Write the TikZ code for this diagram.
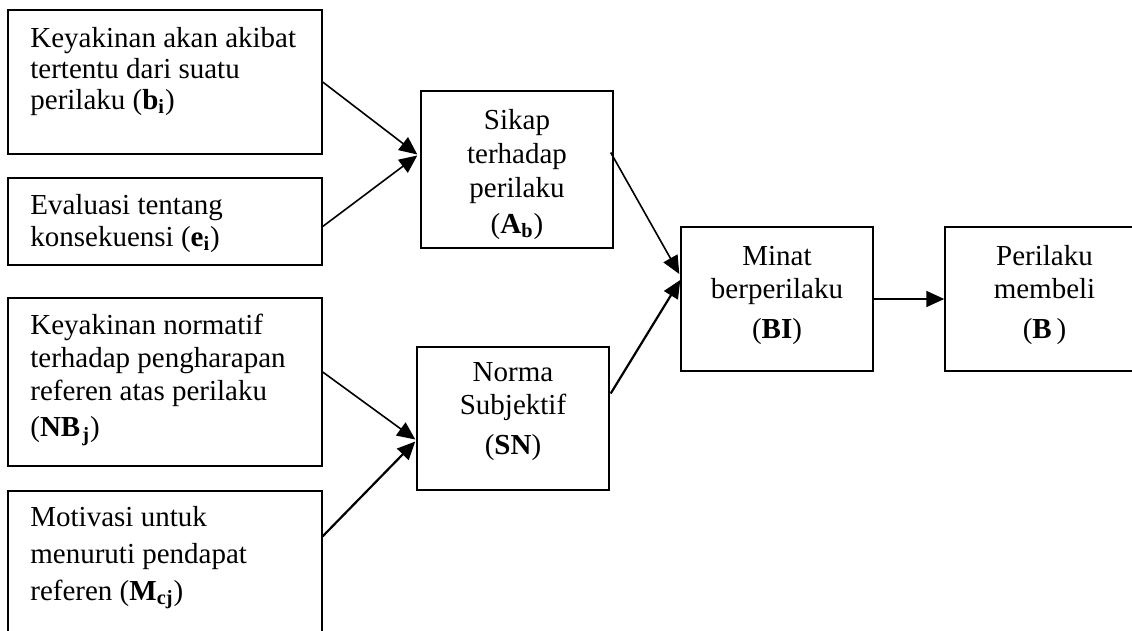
\documentclass[tikz,border=0pt]{standalone}
\usepackage{fontspec}
\setmainfont{Liberation Serif}
\usetikzlibrary{arrows.meta,fit,calc}
\begin{document}
\begin{tikzpicture}[x=0.5pt,y=-0.5pt,
  box/.style={draw,line width=0.7pt,inner sep=0pt},
  lefttxt/.style={anchor=north west,inner sep=0pt,align=left},
  midtxt/.style={anchor=north,inner sep=0pt,align=center},
  arr/.style={-{Triangle[length=9pt,width=8pt]},line width=0.8pt},
  arrb/.style={arr,line width=1.1pt}]
\path[use as bounding box] (0,0) rectangle (1132,631);
\clip (0,0) rectangle (1132,631);
% boxes
\node[box,fit={(8,10) (322,154)}] (b1) {};
\node[box,fit={(8,178) (322,265)}] (b2) {};
\node[box,fit={(8,298) (322,466)}] (b3) {};
\node[box,fit={(8,491) (322,660)}] (b4) {};
\node[box,fit={(421,91) (613,248)}] (sikap) {};
\node[box,fit={(417,347) (609,490)}] (norma) {};
\node[box,fit={(681,227) (873,371)}] (minat) {};
\node[box,fit={(945,227) (1140,371)}] (perilaku) {};
% texts
\node[lefttxt,font=\fontsize{14.5pt}{15.5pt}\selectfont] (t1) at (30,27)
  {Keyakinan akan akibat\\tertentu dari suatu\\perilaku (\textbf{b\textsubscript{i}})};
\node[lefttxt,font=\fontsize{14.5pt}{16pt}\selectfont] (t2) at (30,194)
  {Evaluasi tentang\\konsekuensi (\textbf{e\textsubscript{i}})};
\node[lefttxt,font=\fontsize{14.5pt}{16.5pt}\selectfont] (t3) at (30,314)
  {Keyakinan normatif\\terhadap pengharapan\\referen atas perilaku\\[1.5pt](\textbf{NB\kern1pt\textsubscript{j}})};
\node[lefttxt,font=\fontsize{14.5pt}{18.5pt}\selectfont] (t4) at (30,506)
  {Motivasi untuk\\menuruti pendapat\\referen (\textbf{M\textsubscript{cj}})};
\node[midtxt,font=\fontsize{14.5pt}{17pt}\selectfont] (t5) at (sikap.north |- 0,109)
  {Sikap\\terhadap\\perilaku\\[1pt](\textbf{A\textsubscript{b}})};
\node[midtxt,font=\fontsize{14.5pt}{16.5pt}\selectfont] (t6) at (norma.north |- 0,362)
  {Norma\\Subjektif\\[3.5pt](\textbf{SN})};
\node[midtxt,font=\fontsize{14.5pt}{16.5pt}\selectfont] (t7) at (minat.north |- 0,246)
  {Minat\\berperilaku\\[3.5pt](\textbf{BI})};
\node[midtxt,font=\fontsize{14.5pt}{16.5pt}\selectfont] (t8) at ($(perilaku.north)+(2,19)$)
  {Perilaku\\membeli\\[3.5pt](\textbf{B}\,)};
% arrows
\draw[arr] (b1.east) -- ($(sikap.west)+(-3,-15)$);
\draw[arr] ($(b2.east)+(0,5)$) -- ($(sikap.west)+(-3,-14)$);
\draw[arr] ($(b3.east)+(0,-10)$) -- ($(norma.west)+(-1,21)$);
\draw[arrb] ($(b4.north east)+(0,46)$) -- ($(norma.west)+(-1,23)$);
\draw[arr] ($(sikap.east)+(-3,-17)$) -- ($(minat.west)+(-1,-25)$);
\draw[arrb] ($(norma.east)+(1,-25)$) -- ($(minat.west)+(0,-19)$);
\draw[arr] (minat.east) -- (perilaku.west);
\end{tikzpicture}
\end{document}
